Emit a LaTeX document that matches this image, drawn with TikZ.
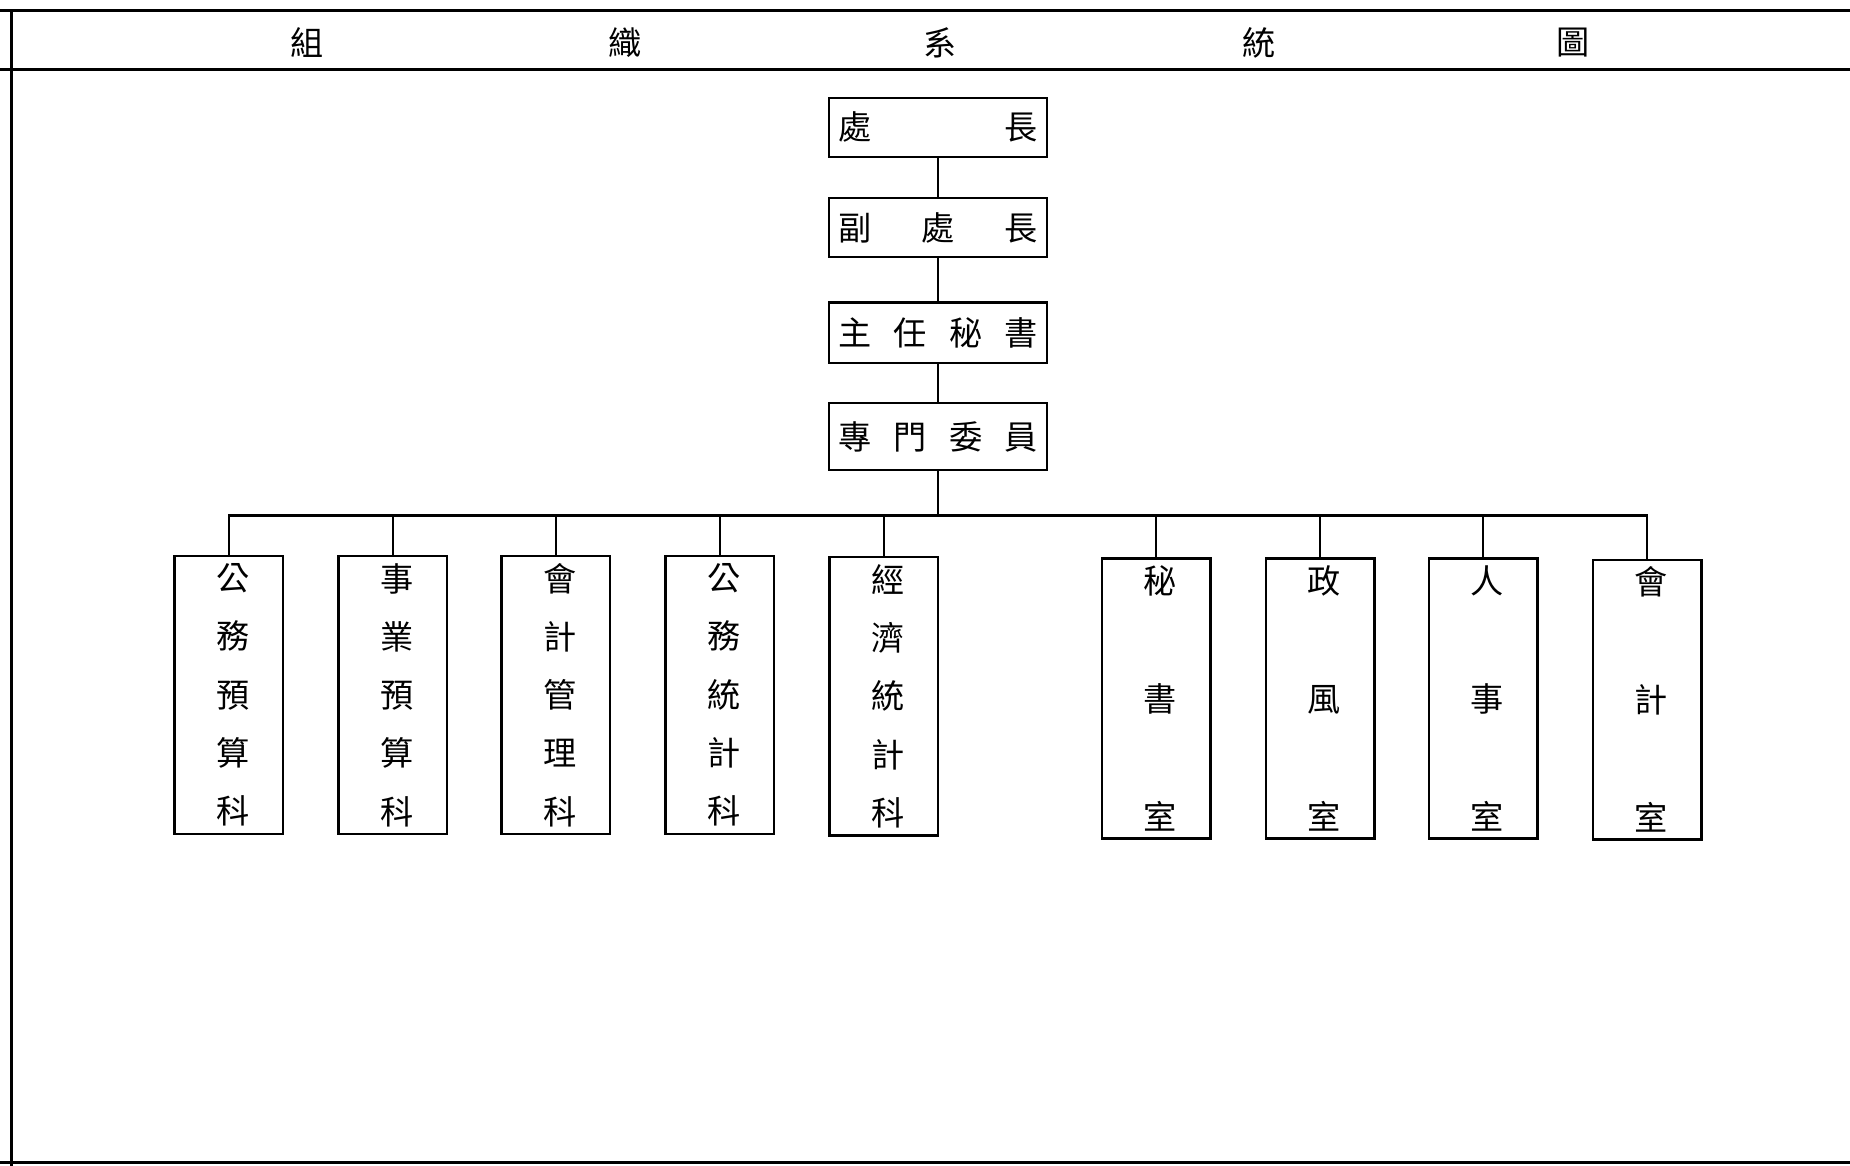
\documentclass[tikz,border=0pt]{standalone}
\usepackage{fontspec}
\setmainfont{Noto Sans CJK TC}
\usetikzlibrary{positioning}

\begin{document}
\begin{tikzpicture}[x=0.02cm, y=-0.02cm,
    frameline/.style={line width=1.5pt},
    link/.style={line width=1.1pt},
    title/.style={font=\fontsize{16}{18}\selectfont},
    headbox/.style={draw, line width=1.2pt, minimum width=3.7cm,
        text width=3.38cm, inner xsep=0.16cm, font=\fontsize{16}{18}\selectfont},
    unitbox/.style={draw, line width=1.2pt, minimum width=1.84cm,
        minimum height=4.72cm, text width=1.2em, align=center, inner sep=0pt},
    unitfive/.style={unitbox, font=\fontsize{16}{28.1}\selectfont},
    unitthree/.style={unitbox, minimum height=4.74cm, font=\fontsize{16}{56.9}\selectfont}]

    \useasboundingbox (0,0) rectangle (1568,988);

    % Frame
    \draw[frameline] (0,9) -- (1568,9);
    \draw[frameline] (0,59) -- (1568,59);
    \draw[frameline] (10,9) -- (10,988);
    \draw[frameline] (0,985) -- (1568,985);

    % Title
    \foreach \ch/\xx [count=\i] in {組/260, 織/530, 系/797, 統/1067, 圖/1333}
        \node[title] (t\i) at (\xx,36) {\ch};

    % Head chain
    \node[headbox, minimum height=1.0cm] (chief) at (795,108) {處\hfill 長};
    \node[headbox, minimum height=1.0cm] (deputy) at (795,193) {副\hfill 處\hfill 長};
    \node[headbox, minimum height=1.02cm] (secretary) at (795,282) {主\hfill 任\hfill 秘\hfill 書};
    \node[headbox, minimum height=1.14cm] (member) at (795,370) {專\hfill 門\hfill 委\hfill 員};

    \draw[link] (chief) -- (deputy);
    \draw[link] (deputy) -- (secretary);
    \draw[link] (secretary) -- (member);

    % Bus
    \coordinate (bus) at (795,437);
    \draw[link] (member) -- (bus);

    % Sections
    \node[unitfive] (s1) at (194,589) {公\\務\\預\\算\\科};
    \node[unitfive] (s2) at (333,589) {事\\業\\預\\算\\科};
    \node[unitfive] (s3) at (471,589) {會\\計\\管\\理\\科};
    \node[unitfive] (s4) at (610,589) {公\\務\\統\\計\\科};
    \node[unitfive] (s5) at (749,590) {經\\濟\\統\\計\\科};

    % Offices
    \node[unitthree] (o1) at (980,592) {秘\\書\\室};
    \node[unitthree] (o2) at (1119,592) {政\\風\\室};
    \node[unitthree] (o3) at (1257,592) {人\\事\\室};
    \node[unitthree] (o4) at (1396,593) {會\\計\\室};

    \foreach \n in {s1,s2,s3,s4,s5,o1,o2,o3,o4}
        \draw[link] (\n.north) |- (bus);
\end{tikzpicture}
\end{document}
